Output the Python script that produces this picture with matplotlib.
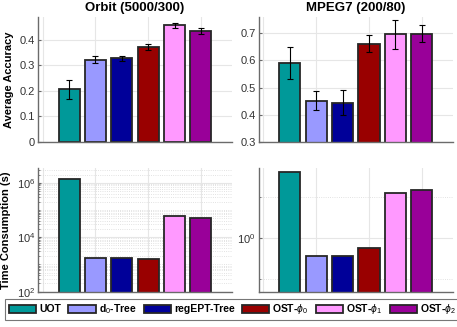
import matplotlib
matplotlib.use("Agg")
import matplotlib.pyplot as plt
import numpy as np
from matplotlib.ticker import LogLocator, NullFormatter, FixedLocator

methods = ["UOT", r"d$_0$-Tree", "regEPT-Tree", r"OST-$\phi_0$", r"OST-$\phi_1$", r"OST-$\phi_2$"]
colors = ["#009999", "#9999FF", "#000099", "#990000", "#FF99FF", "#990099"]

titles = ["Orbit (5000/300)", "MPEG7 (200/80)"]
acc_orbit = [0.206, 0.323, 0.328, 0.372, 0.457, 0.435]
acc_orbit_err = [0.037, 0.015, 0.009, 0.012, 0.011, 0.010]
acc_mpeg = [0.590, 0.451, 0.445, 0.662, 0.696, 0.699]
acc_mpeg_err = [0.059, 0.035, 0.045, 0.030, 0.052, 0.030]
time_orbit = [1.4e6, 1.7e3, 1.7e3, 1.6e3, 5.9e4, 4.9e4]
time_mpeg = [3.04, 0.738, 0.738, 0.846, 2.15, 2.24]

plt.rcParams['font.family'] = ['Liberation Sans', 'DejaVu Sans']
plt.rcParams['mathtext.fontset'] = 'custom'
plt.rcParams['mathtext.rm'] = 'Liberation Sans'
plt.rcParams['mathtext.it'] = 'Liberation Sans:italic'
plt.rcParams['mathtext.bf'] = 'Liberation Sans:bold'

W, H = 457, 327
fig = plt.figure(figsize=(W / 100, H / 100), dpi=100)

def px(x0, y0, x1, y1):
    return [x0 / W, 1 - y1 / H, (x1 - x0) / W, (y1 - y0) / H]

ax_tl = fig.add_axes(px(38, 17, 232, 142))
ax_tr = fig.add_axes(px(258.7, 17, 453, 142))
ax_bl = fig.add_axes(px(38, 168, 232, 291.7))
ax_br = fig.add_axes(px(258.7, 168, 453, 291.7))

xs = np.arange(1, 7)
spine_c = "#6b6b6b"
grid_c = "#e6e6e6"

def style(ax):
    ax.set_xlim(-0.18, 7.18)
    for s in ["top", "right"]:
        ax.spines[s].set_visible(False)
    for s in ["left", "bottom"]:
        ax.spines[s].set_color(spine_c)
        ax.spines[s].set_linewidth(1.0)
    ax.set_xticks([0, 2, 4, 6])
    ax.tick_params(axis="x", length=0, labelbottom=False)
    ax.tick_params(axis="y", direction="in", length=2.5, color=spine_c,
                   labelsize=8, labelcolor="#333333", pad=2)
    ax.tick_params(axis="y", which="minor", direction="in", length=1.5, color=spine_c)
    ax.set_axisbelow(True)

bar_kw = dict(width=0.8, edgecolor="#262626", linewidth=1.3)
err_kw = dict(fmt="none", ecolor="black", elinewidth=0.8, capsize=2.5, capthick=0.8)

bars = None
for ax, acc, err, title in [(ax_tl, acc_orbit, acc_orbit_err, titles[0]),
                            (ax_tr, acc_mpeg, acc_mpeg_err, titles[1])]:
    style(ax)
    b = ax.bar(xs, acc, color=colors, **bar_kw)
    bars = b
    ax.errorbar(xs, acc, yerr=err, **err_kw)
    ax.grid(True, color=grid_c, linewidth=0.8)
    ax.set_title(title, fontsize=9.5, fontweight="bold", pad=4)

ax_tl.set_ylim(0, 0.49)
ax_tl.set_yticks([0, 0.1, 0.2, 0.3, 0.4])
ax_tl.set_yticklabels(["0", "0.1", "0.2", "0.3", "0.4"])
ax_tr.set_ylim(0.3, 0.76)
ax_tr.set_yticks([0.3, 0.4, 0.5, 0.6, 0.7])
ax_tl.set_ylabel("Average Accuracy", fontsize=8, fontweight="bold", labelpad=4)

for ax, t in [(ax_bl, time_orbit), (ax_br, time_mpeg)]:
    style(ax)
    ax.set_yscale("log")
    ax.bar(xs, t, color=colors, **bar_kw)

ax_bl.set_ylim(1e2, 10 ** 6.54)
ax_bl.yaxis.set_major_locator(FixedLocator([1e2, 1e4, 1e6]))
ax_bl.yaxis.set_minor_locator(LogLocator(base=10, subs=np.arange(1, 10), numticks=20))
ax_bl.yaxis.set_minor_formatter(NullFormatter())
ax_bl.grid(True, which="major", color=grid_c, linewidth=0.8)
ax_bl.grid(True, which="minor", axis="y", color="#d9d9d9", linewidth=0.6, linestyle=":")
ax_bl.set_ylabel("Time Consumption (s)", fontsize=8, fontweight="bold", labelpad=4)

ax_br.set_ylim(0.404, 3.26)
ax_br.yaxis.set_major_locator(FixedLocator([1.0]))
ax_br.yaxis.set_minor_locator(FixedLocator([0.5, 2.0]))
ax_br.yaxis.set_minor_formatter(NullFormatter())
ax_br.grid(True, which="major", color=grid_c, linewidth=0.8)
ax_br.grid(True, which="minor", axis="y", color="#d9d9d9", linewidth=0.6, linestyle=":")

leg = fig.legend(bars, methods, loc="center", bbox_to_anchor=(232.5 / W, 1 - 309.5 / H),
                 ncol=6, prop={"weight": "bold", "size": 7.5},
                 handlelength=2.6, handleheight=0.9, handletextpad=0.3, columnspacing=0.7,
                 frameon=True, fancybox=False, borderpad=0.35, borderaxespad=0)
leg.get_frame().set_edgecolor("#555555")
leg.get_frame().set_linewidth(0.8)

fig.savefig("out.png", dpi=100)
